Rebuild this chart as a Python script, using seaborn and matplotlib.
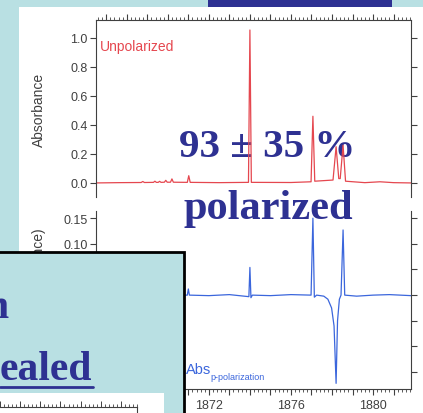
import matplotlib
matplotlib.use("Agg")
import matplotlib.pyplot as plt
from matplotlib.patches import Rectangle
from matplotlib.lines import Line2D
from matplotlib.ticker import MultipleLocator, FuncFormatter, FormatStrFormatter
import seaborn as sns

# unpolarized absorbance spectrum (wavenumber / cm-1, absorbance)
unpol_wn = [1866.5, 1867.6, 1868.7, 1868.78, 1868.86, 1869.3, 1869.37, 1869.44,
            1869.53, 1869.6, 1869.67, 1869.83, 1869.9, 1869.97, 1870.13, 1870.2,
            1870.27, 1870.95, 1871.02, 1871.09, 1872.5, 1873.93, 1874.0, 1874.07,
            1876.0, 1876.98, 1877.07, 1877.16, 1878.05, 1878.2, 1878.33, 1878.4,
            1878.54, 1878.66, 1879.6, 1880.34, 1881.0, 1881.85]
unpol_abs = [0.0, 0.002, 0.003, 0.01, 0.003, 0.004, 0.012, 0.004,
             0.004, 0.011, 0.004, 0.005, 0.018, 0.005, 0.005, 0.028,
             0.005, 0.004, 0.05, 0.004, 0.002, 0.004, 1.055, 0.004,
             0.003, 0.008, 0.46, 0.012, 0.02, 0.25, 0.03, 0.03,
             0.26, 0.012, 0.002, 0.008, 0.002, 0.0]

# p-polarization spectrum
ppol_wn = [1866.5, 1867.5, 1868.5, 1869.5, 1870.5, 1870.95, 1871.0, 1871.05,
           1872.0, 1873.0, 1873.95, 1874.0, 1874.05, 1874.12, 1875.0, 1876.0,
           1876.98, 1877.07, 1877.14, 1877.25, 1877.6, 1877.8, 1877.98, 1878.1,
           1878.2, 1878.27, 1878.36, 1878.44, 1878.54, 1878.62, 1879.2, 1880.0,
           1880.8, 1881.85]
ppol_abs = [0.002, 0.0, 0.001, -0.001, 0.0, 0.0, 0.012, 0.0,
            -0.001, 0.001, -0.003, 0.054, -0.005, 0.0, -0.001, 0.001,
            0.0, 0.15, -0.004, 0.0, -0.002, -0.008, -0.025, -0.06,
            -0.172, -0.05, -0.008, 0.0, 0.127, 0.0, -0.002, 0.0,
            0.001, -0.001]

upper_yticks = [0.0, 0.2, 0.4, 0.6, 0.8, 1.0]
lower_yticks = [-0.15, -0.10, -0.05, 0.0, 0.05, 0.10, 0.15]
lower_ylabels_shown = [0.10, 0.15]   # the rest sit behind the text box
x_labels = [1872, 1876, 1880]
big_text = ["93 \u00b1 35 %", "polarized"]

W, H = 423, 414
BG = "#b9e0e3"
NAVY = "#2e3192"
RED = "#e5474f"
BLUE = "#3b66dc"
GREY = "#404040"

sns.set_theme(style="white")
plt.rcParams["font.family"] = ["Liberation Sans", "DejaVu Sans"]
SERIF = ["Liberation Serif", "DejaVu Serif"]

fig = plt.figure(figsize=(W / 100, H / 100), dpi=100)
fig.patch.set_facecolor(BG)


def frac(x0, y0, x1, y1):
    # pixel box (top-left origin) -> figure fraction [left, bottom, w, h]
    return [x0 / W, 1 - y1 / H, (x1 - x0) / W, (y1 - y0) / H]


def box(x0, y0, x1, y1, **kw):
    l, b, w, h = frac(x0, y0, x1, y1)
    fig.add_artist(Rectangle((l, b), w, h, transform=fig.transFigure, **kw))


box(19, 8, 430, 420, facecolor="white", edgecolor="none", zorder=-1)

ax1 = fig.add_axes(frac(96, 21, 411, 198))
ax2 = fig.add_axes(frac(96, 212, 411, 390))

sns.lineplot(x=unpol_wn, y=unpol_abs, ax=ax1, color=RED, linewidth=0.9,
             estimator=None, sort=False)
sns.lineplot(x=ppol_wn, y=ppol_abs, ax=ax2, color=BLUE, linewidth=0.9,
             estimator=None, sort=False)

for ax in (ax1, ax2):
    ax.set_facecolor("none")
    ax.set_xlim(1866.5, 1881.85)
    for s in ax.spines.values():
        s.set_color(GREY)
        s.set_linewidth(0.8)
    ax.xaxis.set_major_locator(MultipleLocator(1))
    ax.xaxis.set_minor_locator(MultipleLocator(0.2))
    ax.tick_params(axis="both", which="major", direction="out", length=4,
                   width=0.8, color=GREY, labelcolor=GREY, labelsize=9, pad=2)
    ax.tick_params(axis="x", which="minor", direction="out", length=2,
                   width=0.6, color=GREY)
    ax.tick_params(axis="y", left=True, right=True, labelleft=True,
                   labelright=False)

ax1.set_ylim(-0.097, 1.124)
ax1.set_yticks(upper_yticks)
ax1.yaxis.set_major_formatter(FormatStrFormatter("%.1f"))
ax1.spines["bottom"].set_visible(False)
ax1.tick_params(axis="x", which="both", top=True, bottom=False,
                labeltop=False, labelbottom=False)
ax1.set_ylabel("Absorbance", fontsize=10, color=GREY)
ax1.yaxis.set_label_coords(-0.16, 0.5)

ax2.set_ylim(-0.183, 0.164)
ax2.set_yticks(lower_yticks)
ax2.yaxis.set_major_formatter(FuncFormatter(
    lambda v, _: f"{v:.2f}" if any(abs(v - s) < 1e-6 for s in lower_ylabels_shown) else ""))
ax2.spines["top"].set_visible(False)
ax2.tick_params(axis="x", which="both", top=False, bottom=True,
                labeltop=False, labelbottom=True)
ax2.tick_params(axis="x", which="major", pad=3.5)
ax2.xaxis.set_major_formatter(
    FuncFormatter(lambda v, _: f"{v:.0f}" if round(v) in x_labels else ""))
ax2.set_ylabel("\u0394(Absorbance)", fontsize=10, color=GREY)
ax2.yaxis.label.set_horizontalalignment("right")
ax2.yaxis.set_label_coords(-0.16, (390 - 227) / 178)

# panel labels
fig.text(100 / W, 1 - 47 / H, "Unpolarized", color=RED, fontsize=10,
         va="center", ha="left")
fig.text(186 / W, 1 - 370 / H, "Abs", color=BLUE, fontsize=10.5,
         va="center", ha="left")
fig.text(210 / W, 1 - 378 / H, "p-polarization", color=BLUE, fontsize=6.5,
         va="center", ha="left")

# big overlay text, below the spectra lines
ax1.text(267 / W, 1 - 157 / H, big_text[0], transform=fig.transFigure,
         ha="center", va="baseline", fontsize=29.5, fontweight="bold",
         family=SERIF, color=NAVY, zorder=1, clip_on=False)
ax1.text(268 / W, 1 - 219 / H, big_text[1], transform=fig.transFigure,
         ha="center", va="baseline", fontsize=30.5, fontweight="bold",
         family=SERIF, color=NAVY, zorder=1, clip_on=False)

# slide decorations
box(208, -5, 392, 8, facecolor=NAVY, edgecolor="none", zorder=5)
box(-10, 253, 184, 430, facecolor=BG, edgecolor="black", linewidth=2, zorder=5)
box(-5, 394, 164, 430, facecolor="white", edgecolor="none", zorder=6)

fig.text(9 / W, 1 - 318 / H, "n", ha="right", va="baseline", fontsize=30,
         fontweight="bold", family=SERIF, color=NAVY, zorder=8)
fig.text(0 / W, 1 - 380 / H, "ealed", ha="left", va="baseline", fontsize=30,
         fontweight="bold", family=SERIF, color=NAVY, zorder=8)
fig.add_artist(Line2D([0, 93 / W], [1 - 388 / H] * 2, transform=fig.transFigure,
                      color=NAVY, linewidth=2, zorder=8))

ax3 = fig.add_axes(frac(0, 408, 137, 420), zorder=7)
ax3.set_facecolor("none")
ax3.set_xlim(0, 34)
ax3.set_yticks([])
for side in ("left", "bottom"):
    ax3.spines[side].set_visible(False)
for side in ("top", "right"):
    ax3.spines[side].set_color(GREY)
    ax3.spines[side].set_linewidth(0.8)
ax3.xaxis.set_major_locator(MultipleLocator(5))
ax3.xaxis.set_minor_locator(MultipleLocator(1))
ax3.tick_params(axis="x", which="both", top=True, bottom=False,
                labeltop=False, labelbottom=False, direction="out",
                color=GREY)
ax3.tick_params(axis="x", which="major", length=4, width=0.7)
ax3.tick_params(axis="x", which="minor", length=2, width=0.6)

fig.savefig("out.png", dpi=100, facecolor=BG)
